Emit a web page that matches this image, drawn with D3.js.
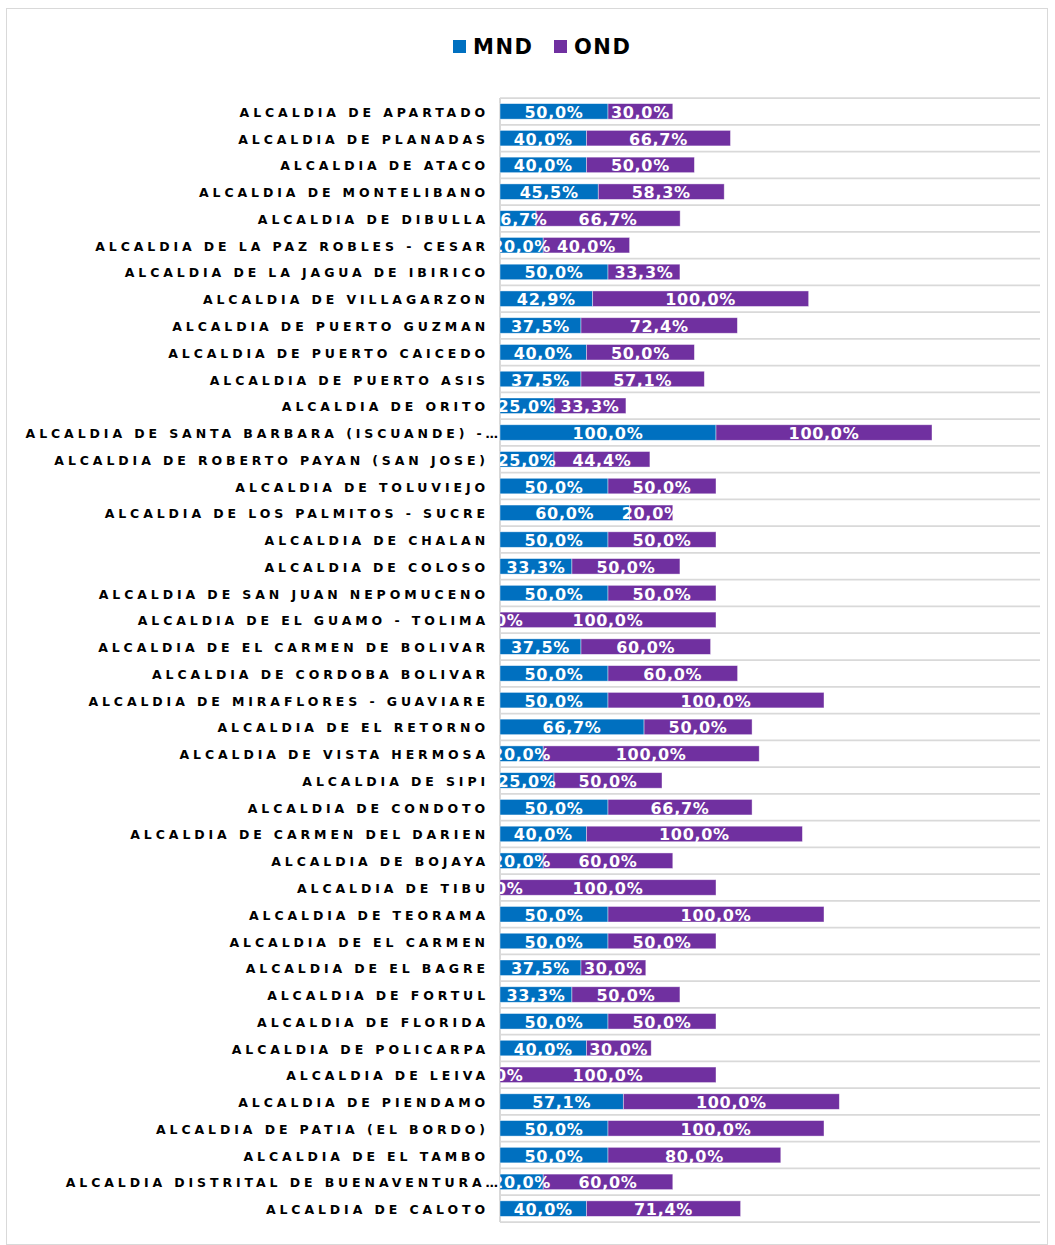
<!DOCTYPE html>
<html>
<head>
<meta charset="utf-8">
<script src="https://cdn.jsdelivr.net/npm/d3@7"></script>
<style>
  html, body { margin: 0; padding: 0; background: #fff; }
  svg { display: block; }
</style>
</head>
<body>
<svg id="chart" width="1055" height="1245"></svg>
<script>
const categories = [
  "ALCALDIA DE APARTADO",
  "ALCALDIA DE PLANADAS",
  "ALCALDIA DE ATACO",
  "ALCALDIA DE MONTELIBANO",
  "ALCALDIA DE DIBULLA",
  "ALCALDIA DE LA PAZ ROBLES - CESAR",
  "ALCALDIA DE LA JAGUA DE IBIRICO",
  "ALCALDIA DE VILLAGARZON",
  "ALCALDIA DE PUERTO GUZMAN",
  "ALCALDIA DE PUERTO CAICEDO",
  "ALCALDIA DE PUERTO ASIS",
  "ALCALDIA DE ORITO",
  "ALCALDIA DE SANTA BARBARA (ISCUANDE) -…",
  "ALCALDIA DE ROBERTO PAYAN (SAN JOSE)",
  "ALCALDIA DE TOLUVIEJO",
  "ALCALDIA DE LOS PALMITOS - SUCRE",
  "ALCALDIA DE CHALAN",
  "ALCALDIA DE COLOSO",
  "ALCALDIA DE SAN JUAN NEPOMUCENO",
  "ALCALDIA DE EL GUAMO - TOLIMA",
  "ALCALDIA DE EL CARMEN DE BOLIVAR",
  "ALCALDIA DE CORDOBA BOLIVAR",
  "ALCALDIA DE MIRAFLORES - GUAVIARE",
  "ALCALDIA DE EL RETORNO",
  "ALCALDIA DE VISTA HERMOSA",
  "ALCALDIA DE SIPI",
  "ALCALDIA DE CONDOTO",
  "ALCALDIA DE CARMEN DEL DARIEN",
  "ALCALDIA DE BOJAYA",
  "ALCALDIA DE TIBU",
  "ALCALDIA DE TEORAMA",
  "ALCALDIA DE EL CARMEN",
  "ALCALDIA DE EL BAGRE",
  "ALCALDIA DE FORTUL",
  "ALCALDIA DE FLORIDA",
  "ALCALDIA DE POLICARPA",
  "ALCALDIA DE LEIVA",
  "ALCALDIA DE PIENDAMO",
  "ALCALDIA DE PATIA (EL BORDO)",
  "ALCALDIA DE EL TAMBO",
  "ALCALDIA DISTRITAL DE BUENAVENTURA…",
  "ALCALDIA DE CALOTO"
];
const mnd = [50.0, 40.0, 40.0, 45.5, 16.7, 20.0, 50.0, 42.9, 37.5, 40.0, 37.5, 25.0, 100.0, 25.0,
             50.0, 60.0, 50.0, 33.3, 50.0, 0.0, 37.5, 50.0, 50.0, 66.7, 20.0, 25.0, 50.0, 40.0,
             20.0, 0.0, 50.0, 50.0, 37.5, 33.3, 50.0, 40.0, 0.0, 57.1, 50.0, 50.0, 20.0, 40.0];
const ond = [30.0, 66.7, 50.0, 58.3, 66.7, 40.0, 33.3, 100.0, 72.4, 50.0, 57.1, 33.3, 100.0, 44.4,
             50.0, 20.0, 50.0, 50.0, 50.0, 100.0, 60.0, 60.0, 100.0, 50.0, 100.0, 50.0, 66.7, 100.0,
             60.0, 100.0, 100.0, 50.0, 30.0, 50.0, 50.0, 30.0, 100.0, 100.0, 100.0, 80.0, 60.0, 71.4];
const seriesNames = ["MND", "OND"];
const seriesColors = ["#0070C0", "#7030A0"];
const xMax = 250;

const svg = d3.select("#chart");

// outer frame
svg.append("rect")
  .attr("x", 6.5).attr("y", 8.5).attr("width", 1041).attr("height", 1236)
  .attr("fill", "#fff").attr("stroke", "#d9d9d9").attr("stroke-width", 1);

const plot = { left: 500, right: 1040, top: 98, bottom: 1222 };

const defs = svg.append("defs");
defs.append("clipPath").attr("id", "plotclip")
  .append("rect").attr("x", plot.left).attr("y", plot.top - 5)
  .attr("width", plot.right - plot.left + 10).attr("height", plot.bottom - plot.top + 10);

const x = d3.scaleLinear().domain([0, xMax]).range([plot.left, plot.right]);
const y = d3.scaleBand().domain(categories).range([plot.top, plot.bottom]).paddingInner(0).paddingOuter(0);
const bw = y.bandwidth();
const barH = bw * 0.58;
const barOff = (bw - barH) / 2;

// gridlines at band boundaries
const bounds = categories.map(c => y(c)).concat([plot.bottom]);
svg.append("g").selectAll("line").data(bounds).join("line")
  .attr("x1", plot.left).attr("x2", plot.right)
  .attr("y1", d => d).attr("y2", d => d)
  .attr("stroke", "#d9d9d9").attr("stroke-width", 1.75);

// vertical axis line
svg.append("line")
  .attr("x1", plot.left).attr("x2", plot.left)
  .attr("y1", plot.top).attr("y2", plot.bottom)
  .attr("stroke", "#d9d9d9").attr("stroke-width", 2);

const rows = categories.map((c, i) => ({ cat: c, vals: [mnd[i], ond[i]] }));
const stack = d3.stack().keys([0, 1]).value((d, k) => d.vals[k]);
const stacked = stack(rows);

const fmt = v => d3.format(".1f")(v).replace(".", ",") + "%";

// bars
stacked.forEach((layer, k) => {
  svg.append("g").selectAll("rect").data(layer).join("rect")
    .attr("x", d => x(d[0]))
    .attr("y", d => y(d.data.cat) + barOff)
    .attr("width", d => x(d[1]) - x(d[0]))
    .attr("height", barH)
    .attr("fill", seriesColors[k])
    .attr("stroke", "rgba(255,255,255,0.55)")
    .attr("stroke-width", 0.75);
});

// data labels (white; parts outside the bars vanish on the white background)
const labelLayer = svg.append("g").attr("clip-path", "url(#plotclip)");
stacked.forEach((layer, k) => {
  labelLayer.append("g").selectAll("text").data(layer).join("text")
    .attr("x", d => (x(d[0]) + x(d[1])) / 2)
    .attr("y", d => y(d.data.cat) + bw / 2 + 1)
    .attr("text-anchor", "middle")
    .attr("dominant-baseline", "central")
    .attr("fill", "#fff")
    .attr("font-family", "DejaVu Sans, Verdana, sans-serif")
    .attr("font-weight", "bold")
    .attr("font-size", 16)
    .attr("letter-spacing", 0.7)
    .text(d => fmt(d.data.vals[k]));
});

// category labels (drawn on top)
svg.append("g").selectAll("text").data(categories).join("text")
  .attr("x", d => d.endsWith("…") ? 502 : 489)
  .attr("y", d => y(d) + bw / 2 + 1)
  .attr("text-anchor", "end")
  .attr("dominant-baseline", "central")
  .attr("fill", "#000")
  .attr("font-family", "DejaVu Sans, Verdana, sans-serif")
  .attr("font-weight", "bold")
  .attr("font-size", 12.5)
  .attr("letter-spacing", 3.9)
  .text(d => d);

// legend
const legend = svg.append("g");
const legendItems = [{ name: seriesNames[0], color: seriesColors[0], x: 453 }, { name: seriesNames[1], color: seriesColors[1], x: 554 }];
legendItems.forEach(it => {
  legend.append("rect").attr("x", it.x).attr("y", 40).attr("width", 13).attr("height", 13).attr("fill", it.color);
  legend.append("text")
    .attr("x", it.x + 20).attr("y", 47)
    .attr("dominant-baseline", "central")
    .attr("font-family", "DejaVu Sans, Verdana, sans-serif")
    .attr("font-weight", "bold")
    .attr("font-size", 21)
    .attr("letter-spacing", 1.5)
    .attr("fill", "#000")
    .text(it.name);
});
</script>
</body>
</html>
